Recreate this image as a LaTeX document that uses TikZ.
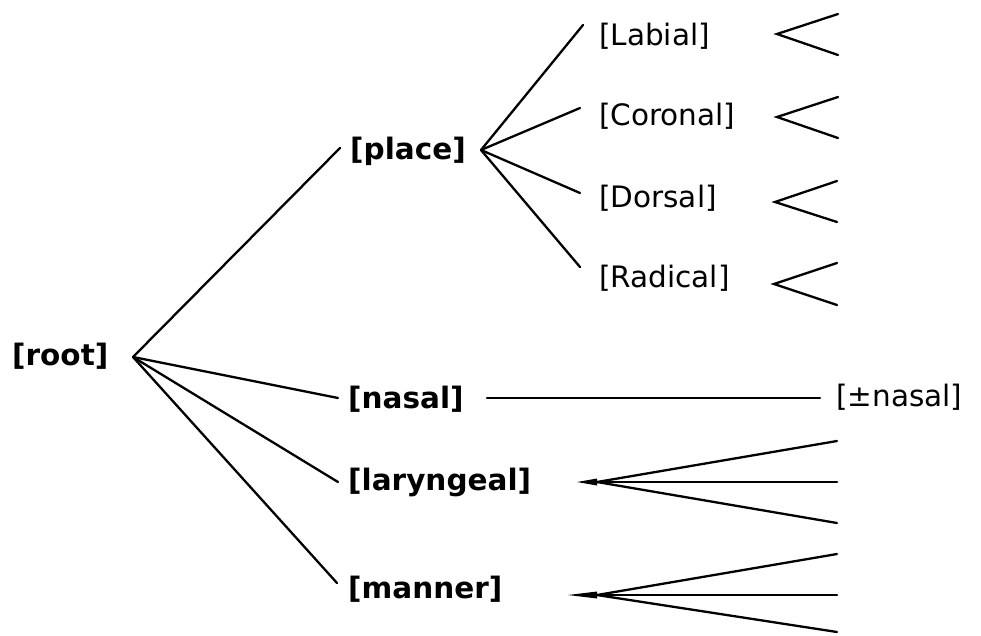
\documentclass[tikz,border=0pt]{standalone}
\usepackage{fontspec}
\setmainfont{DejaVu Sans}
\begin{document}
\begin{tikzpicture}[x=1pt,y=-1pt,
  lbl/.style={anchor=west,inner sep=0pt,font=\fontsize{29.5}{32}\selectfont},
  blbl/.style={lbl,font=\fontsize{29.5}{32}\selectfont\bfseries},
  br/.style={line width=2.3pt,line cap=round}]
\useasboundingbox (0,0) rectangle (981,635);
% labels
\node[blbl] (root) at (12,356) {[root]};
\node[blbl] (place) at (350,151) {[place]};
\node[blbl] (nasal) at (348,399) {[nasal]};
\node[blbl] (laryngeal) at (348,482) {[laryngeal]};
\node[blbl] (manner) at (348,589) {[manner]};
\node[lbl] (labial) at (599,36) {[Labial]};
\node[lbl] (coronal) at (599,116) {[Coronal]};
\node[lbl] (dorsal) at (599,198) {[Dorsal]};
\node[lbl] (radical) at (599,278) {[Radical]};
\node[lbl] (pmnasal) at (836,397) {[±nasal]};
% junction points
\coordinate (rootA) at (133,357);
\coordinate (placeIn) at (340,148);
\coordinate (nasalIn) at (338,398);
\coordinate (laryngealIn) at (338,482);
\coordinate (mannerIn) at (337,583);
\coordinate (placeA) at (481,150);
\coordinate (labialIn) at (583,25);
\coordinate (coronalIn) at (580,108);
\coordinate (dorsalIn) at (580,193);
\coordinate (radicalIn) at (580,267);
% root branches
\draw[br] (rootA) -- (placeIn);
\draw[br] (rootA) -- (nasalIn);
\draw[br] (rootA) -- (laryngealIn);
\draw[br] (rootA) -- (mannerIn);
% place branches
\draw[br] (placeA) -- (labialIn);
\draw[br] (placeA) -- (coronalIn);
\draw[br] (placeA) -- (dorsalIn);
\draw[br] (placeA) -- (radicalIn);
% forks after place features
\coordinate (labA) at (777,34);
\coordinate (corA) at (777,117);
\coordinate (dorA) at (775,202);
\coordinate (radA) at (774,284);
\coordinate (labT) at (838,14);  \coordinate (labB) at (838,55);
\coordinate (corT) at (838,97);  \coordinate (corB) at (838,138);
\coordinate (dorT) at (837,181); \coordinate (dorB) at (837,222);
\coordinate (radT) at (837,263); \coordinate (radB) at (837,305);
\draw[br,line join=miter] (labT) -- (labA) -- (labB);
\draw[br,line join=miter] (corT) -- (corA) -- (corB);
\draw[br,line join=miter] (dorT) -- (dorA) -- (dorB);
\draw[br,line join=miter] (radT) -- (radA) -- (radB);
% nasal line
\coordinate (nasL) at (487,398);
\coordinate (nasR) at (820,398);
\draw[br] (nasL) -- (nasR);
% laryngeal fork
\coordinate (larS) at (577,482);
\coordinate (larA) at (597,482);
\coordinate (larT) at (837,441);
\coordinate (larM) at (837,482);
\coordinate (larB) at (837,523);
\fill (larS) -- ([yshift=-3.5]larA) -- ([yshift=3.5]larA) -- cycle;
\draw[br] (larA) -- (larT);
\draw[br] (larA) -- (larM);
\draw[br] (larA) -- (larB);
% manner fork
\coordinate (manS) at (568,595);
\coordinate (manA) at (597,595);
\coordinate (manT) at (837,554);
\coordinate (manM) at (837,595);
\coordinate (manB) at (837,632);
\fill (manS) -- ([yshift=-3.5]manA) -- ([yshift=3.5]manA) -- cycle;
\draw[br] (manA) -- (manT);
\draw[br] (manA) -- (manM);
\draw[br] (manA) -- (manB);
\end{tikzpicture}
\end{document}
